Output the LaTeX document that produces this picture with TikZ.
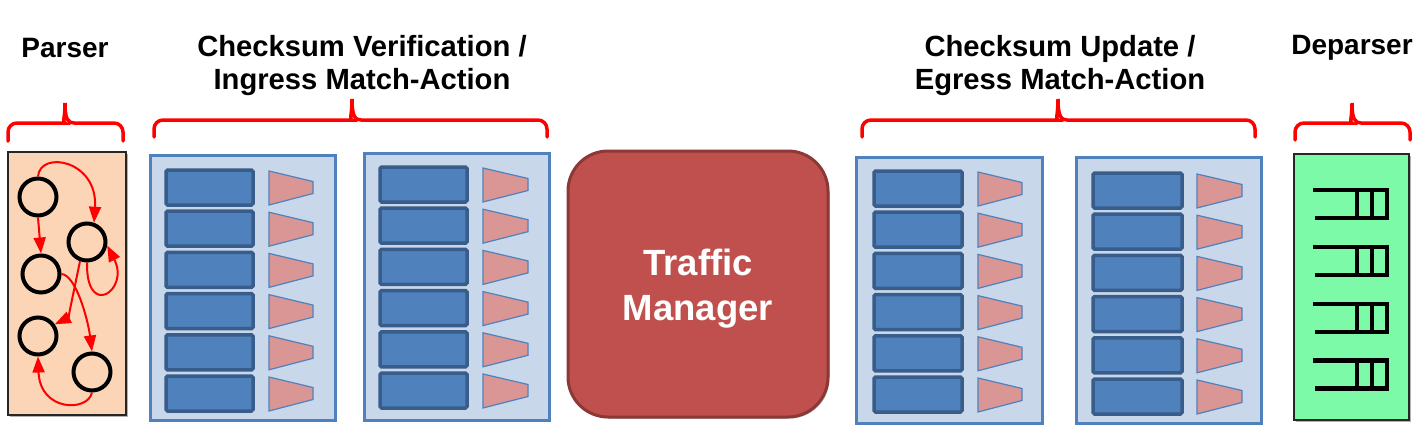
\documentclass[tikz,border=0pt]{standalone}
\usepackage{fontspec}
\setmainfont{Liberation Sans}
\usetikzlibrary{arrows.meta,shadows}
\definecolor{brred}{HTML}{FF0000}
\definecolor{mabox}{HTML}{C9D7EA}
\definecolor{maedge}{HTML}{4F81BD}
\definecolor{tblfill}{HTML}{4F81BD}
\definecolor{tbledge}{HTML}{385D8A}
\definecolor{actfill}{HTML}{D99694}
\definecolor{parsefill}{HTML}{FBD5B5}
\definecolor{deparsefill}{HTML}{7DFAA8}
\definecolor{tmfill}{HTML}{C0504D}
\definecolor{tmedge}{HTML}{8C3836}
\tikzset{
  lbl/.style={font=\bfseries\fontsize{28}{33}\selectfont, align=center, text=black, inner sep=0pt},
  lbltwo/.style={font=\bfseries\fontsize{29.2}{33}\selectfont, align=center, text=black, inner sep=0pt},
  bracepath/.style={draw=brred, line width=3.5pt, line cap=round},
  shad/.style={drop shadow={shadow xshift=1.5pt, shadow yshift=-1.5pt, opacity=.3, fill=black}},
  mabk/.style={draw=maedge, fill=mabox, line width=3pt, shad},
  tblbox/.style={draw=tbledge, fill=tblfill, line width=3.5pt, rounded corners=1.5pt},
  actshape/.style={draw=maedge, fill=actfill, line width=1.2pt},
  pstate/.style={circle, draw=black, line width=4pt, minimum size=37pt, inner sep=0pt},
  parr/.style={draw=brred, line width=2pt, -{Triangle[length=16pt,width=12pt]}},
  qline/.style={draw=black, line width=4.2pt},
}
\begin{document}
\begin{tikzpicture}[x=1pt,y=-1pt]
\useasboundingbox (0,0) rectangle (1425,436);

% labels
\node[lbl] (lparser) at (65,48) {Parser};
\node[lbltwo] (lingress) at (362,66) {Checksum Verification /\\Ingress Match-Action};
\node[lbltwo] (legress) at (1060,66) {Checksum Update /\\Egress Match-Action};
\node[lbl] (ldeparser) at (1352,48) {Deparser};

% brackets: x1, x2, xc, ypeak, ymid, ybot
\foreach \xa/\xb/\xc/\yp/\ym/\yb in {8/123/65/103/123/141, 154/547/352/99/120/137, 862/1255/1058/99/120/137, 1295/1410/1352/103/123/140}{
  \draw[bracepath] (\xa,\yb) [rounded corners=9pt] -- (\xa,\ym) -- (\xc-9,\ym) [sharp corners]
    .. controls (\xc-3,\ym) and (\xc,\ym-4) .. (\xc,\yp)
    .. controls (\xc,\ym-4) and (\xc+3,\ym) .. (\xc+9,\ym)
    [rounded corners=9pt] -- (\xb,\ym) -- (\xb,\yb);
}

% parser
\node[draw=black!85, fill=parsefill, line width=1.5pt, shad, minimum width=118pt, minimum height=263pt, inner sep=0pt] (parser) at (67,283.5) {};
\node[pstate] (c1) at (38,197) {};
\node[pstate] (c2) at (87,242) {};
\node[pstate] (c3) at (41,274) {};
\node[pstate] (c4) at (38,336) {};
\node[pstate] (c5) at (92,372) {};
\draw[parr] (c1.north) .. controls (40,150) and (98,160) .. (c2.70);
\draw[parr] (c1.south) -- (c3.north);
\draw[parr] (c2.south) .. controls (86,320) and (130,290) .. (c2.-10);
\draw[parr] (c2.250) .. controls (72,300) and (68,318) .. (c4.35);
\draw[parr] (c3.east) .. controls (76,275) and (88,320) .. (c5.north);
\draw[parr] (c5.south) .. controls (88,412) and (40,412) .. (c4.south);

% match-action boxes: left, top, right, bottom, rect-x1, rect-x2, row-top, act-x1, act-x2
\foreach \nm/\bl/\bt/\br/\bb/\ra/\rb/\ry/\aa/\ab in {ing1/150/155/335/420/166/253/170/269/313, ing2/364/153/549/420/380/467/167/483/528, eg1/856/157/1042/423/874/962/171/978/1022, eg2/1076/157/1261/423/1093/1182/173/1197/1242}{
  \node[mabk, minimum width=\br-\bl, minimum height=\bb-\bt, inner sep=0pt] (\nm) at ({(\bl+\br)/2},{(\bt+\bb)/2}) {};
  \foreach \i in {0,...,5}{
    \pgfmathsetmacro{\yt}{\ry+41.2*\i}
    \node[tblbox, minimum width=\rb-\ra, minimum height=35pt, inner sep=0pt] (\nm t\i) at ({(\ra+\rb)/2},{\yt+17.5}) {};
    \draw[actshape] (\aa,\yt+1) -- (\ab,\yt+11.5) -- (\ab,\yt+23.5) -- (\aa,\yt+35) -- cycle;
  }
}

% traffic manager
\node[draw=tmedge, fill=tmfill, line width=3pt, rounded corners=40pt, minimum width=260pt, minimum height=266pt, inner sep=0pt, shad] (tm) at (698,284) {};
\node[font=\bfseries\fontsize{36.5}{45}\selectfont, text=white, align=center, inner sep=0pt] (tmtext) at (698,289) {Traffic\\Manager};

% deparser
\node[draw=black!85, fill=deparsefill, line width=1.5pt, shad, minimum width=115pt, minimum height=266pt, inner sep=0pt] (deparser) at (1351.5,287) {};
\foreach \q in {0,...,3}{
  \pgfmathsetmacro{\yq}{190+56.8*\q}
  \draw[qline] (1313,\yq) -- (1387,\yq) -- (1387,\yq+28) -- (1315,\yq+28);
  \draw[qline] (1357,\yq) -- (1357,\yq+28);
  \draw[qline] (1372,\yq) -- (1372,\yq+28);
}
\end{tikzpicture}
\end{document}
